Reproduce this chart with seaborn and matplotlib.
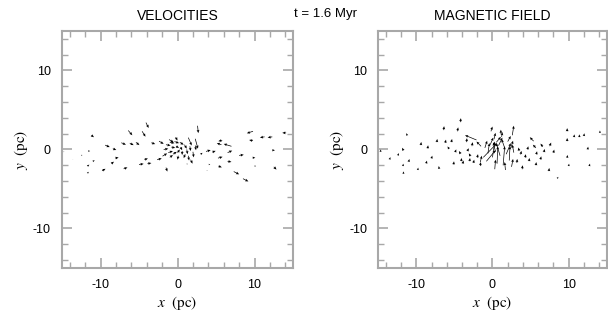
import numpy as np
import matplotlib
matplotlib.use("Agg")
import matplotlib.pyplot as plt
from matplotlib.ticker import MultipleLocator
import seaborn as sns

# velocity field: x, y (pc), vx, vy (arrow length in pc)
vel_x = [-4.1, -6.4, -4.6, 2.6, -11.2, 9.8, 9.8, 11.3, 12.3, 14.1,
         -9.4, -8.4, -7.3, -6.2, -5.4, -3.4, -2.4, -1.1, -0.25, 1.4,
         2.3, 5.8, 5.7, 7.0, 12.3, -14.8, -13.6, -12.5, -11.6, -11.0,
         -11.7, -11.7, -9.8, -8.6, -8.1, -7.0, -5.0, -3.9, -4.3, -2.65,
         -1.95, -1.5, 3.8, 5.3, 6.5, 7.3, 8.5, 9.75, 10.0, 12.5,
         3.7, 4.5, 5.25, 6.5, 8.0, 3.0, 4.05, 1.2, 1.7,
         -1.5, -1.0, -0.4, 0.3, 0.9, 1.2, 1.0, -1.8, -1.2, -0.6,
         0.0, -0.8, -0.2, 0.4, 0.6, 0.1, -1.0, 1.6, 2.0, 1.4, 2.3]
vel_y = [3.4, 2.4, 2.3, 3.0, 1.8, 2.3, 1.1, 1.6, 1.6, 2.1,
         0.55, 0.1, 0.85, 0.8, 0.9, 0.85, 1.05, 1.25, 1.55, 1.5,
         1.35, 1.15, 0.6, 0.4, -0.1, -0.3, -1.3, -0.75, -0.2, -1.5,
         -2.1, -3.0, -2.7, -1.8, -1.1, -2.45, -1.9, -1.8, -1.3, -1.3,
         -0.85, -2.3, -2.65, -2.1, -1.5, -2.8, -3.7, -1.05, -2.1, -2.2,
         -0.25, -0.35, -1.1, -0.4, -0.75, -0.6, -1.9, -1.8, -1.3,
         0.6, 0.9, 1.0, 0.9, 0.6, 0.0, -0.6, 0.0, -0.4, -0.6,
         -0.4, 0.3, 0.4, 0.3, -0.2, -0.8, -1.0, 0.4, -0.3, -0.8, 0.5]
vel_u = [0.35, 0.53, 0.44, 0.1, 0.35, -0.8, -0.5, -0.6, -0.6, -0.5,
         0.6, 0.45, 0.6, 0.5, 0.45, 0.5, 0.6, 0.6, 0.25, 0.44,
         0.35, -0.5, -0.6, -1.0, 0.35, 0.1, 0.05, 0.15, 0.25, 0.25,
         0.25, 0.18, 0.45, 0.35, 0.45, 0.5, 0.6, 0.5, 0.45, 0.6,
         0.6, 0.18, 0.1, 0.45, 0.5, 0.7, 0.7, 0.35, 0.2, 0.35,
         0.6, 0.45, 0.6, 0.6, 0.6, 0.25, 0.2, 0.1, 0.25,
         0.6, 0.6, 0.6, 0.5, 0.3, 0.1, -0.2, 0.6, 0.6, 0.5,
         0.3, 0.5, 0.4, 0.2, 0.0, -0.1, 0.4, 0.1, 0.1, 0.1, 0.1]
vel_v = [-0.68, -0.6, -0.68, -0.93, -0.25, -0.25, 0.1, -0.1, -0.1, 0.0,
         -0.25, -0.17, -0.25, -0.25, -0.35, -0.17, -0.35, -0.35, -0.42, -1.0,
         -1.25, -0.1, 0.2, 0.3, 0.0, 0.0, 0.0, 0.05, 0.0, 0.12,
         0.17, 0.17, 0.25, 0.25, 0.08, 0.17, 0.08, 0.08, 0.17, 0.17,
         0.35, -0.5, 0.0, -0.17, -0.08, -0.35, -0.35, 0.0, 0.0, -0.35,
         0.17, 0.17, 0.17, 0.25, 0.08, 0.17, 0.0, -0.1, -0.5,
         -0.1, -0.1, -0.2, -0.3, -0.5, -0.6, -0.5, 0.1, 0.2, 0.3,
         0.4, -0.1, -0.2, -0.4, -0.5, -0.5, 0.3, -0.6, -0.7, -0.6, -0.6]

# magnetic field: x, y (pc), bx, by
mag_x = [-14.7, -13.5, -12.4, -11.7, -11.2, -11.75, -11.7, -11.0, -9.8, -9.4,
         -8.7, -8.5, -8.0, -7.3, -7.0, -6.4, -6.2, -5.7, -5.4, -5.1,
         -4.6, -4.2, -4.9, -4.2, -4.1, -3.9, -3.4, -3.3, -2.9, -3.0,
         -2.5, -2.7, -2.0, -1.6, 3.5, 3.7, 3.2, 3.9, 4.3, 4.8,
         4.6, 5.4, 5.7, 5.75, 5.7, 6.3, 6.6, 6.75, 7.5, 7.4,
         8.0, 8.5, 9.8, 9.8, 9.8, 10.0, 10.7, 11.4, 12.0, 12.5,
         12.7, 14.1,
         -2.1, -1.5, -1.0, -0.6, -0.3, 0.0, 0.2, 0.4, 0.6, 0.8,
         1.0, 1.2, 1.4, 1.6, 1.8, 2.0, 2.2, 2.4, 2.6, -0.8,
         -1.2, 0.5, 1.1, -0.2, 2.8, 0.3, 1.7, -1.6, 2.5]
mag_y = [-0.3, -1.27, -0.76, -0.13, 1.77, -2.1, -3.08, -1.56, -2.6, 0.55,
         -1.77, 0.13, -1.14, 0.93, -2.45, 2.45, 0.84, 0.08, 0.93, -1.9,
         2.3, 3.46, -0.34, -0.55, -1.48, -1.8, 0.93, -0.2, -0.84, -1.48,
         -1.7, 0.42, -1.05, -2.1, -0.2, -0.63, -1.7, -2.5, -1.05, -1.48,
         0.0, 1.05, 0.2, -0.63, -2.0, -1.27, 0.34, -0.34, 0.42, -2.74,
         -0.42, -3.67, 2.3, 1.05, -1.05, -2.1, 1.56, 1.56, 1.7, 0.0,
         -2.1, 2.1,
         1.2, 0.4, 0.2, -0.5, 0.6, -1.0, 1.3, -0.3, -1.8, 0.5,
         -0.8, 1.6, -2.0, 0.2, -0.6, 1.0, -1.4, 0.2, 1.8, -1.5,
         -1.0, 0.9, 2.0, 2.3, -0.4, -2.5, -2.6, -1.6, -2.2]
mag_u = [0.05, 0.1, 0.1, -0.15, -0.1, 0.05, 0.05, 0.1, 0.05, 0.05,
         0.1, 0.05, 0.1, 0.05, -0.05, 0.05, 0.1, -0.2, 0.1, 0.05,
         0.1, 0.05, 0.15, -0.2, 0.05, 0.1, 0.05, 0.2, -0.2, 0.05,
         0.1, 0.1, 0.1, 0.05, -0.1, 0.1, 0.05, 0.05, 0.05, 0.05,
         0.1, -0.5, -0.4, 0.1, 0.05, 0.1, -0.3, 0.1, 0.2, 0.05,
         0.1, 0.15, 0.0, 0.0, 0.05, 0.05, 0.05, 0.0, 0.05, 0.05,
         0.1, 0.0,
         -1.5, -0.6, 0.3, 0.2, 0.4, 0.3, 0.2, -0.3, 0.1, 0.5,
         -0.5, 0.1, 0.2, -0.4, 0.6, 0.4, 0.1, 0.3, 0.2, 1.2,
         1.8, 0.6, 0.0, 0.2, -0.2, 0.1, -0.1, 0.2, 0.2]
mag_v = [0.3, 0.3, 0.3, 0.35, 0.3, 0.3, 0.3, 0.35, 0.3, 0.4,
         0.35, 0.4, 0.35, 0.4, 0.35, 0.5, 0.4, 0.3, 0.4, 0.4,
         0.5, 0.5, 0.35, 0.35, 0.4, 0.4, 0.5, 0.35, 0.35, 0.4,
         0.4, 0.5, 0.45, 0.5, 0.45, 0.45, 0.5, 0.5, 0.45, 0.4,
         0.4, 0.5, 0.4, 0.4, 0.4, 0.4, 0.4, 0.4, 0.45, 0.4,
         0.4, 0.2, 0.4, 0.4, 0.35, 0.3, 0.35, 0.35, 0.35, 0.35,
         0.3, 0.3,
         0.6, 0.6, 0.9, 1.3, 0.9, 2.0, 0.8, 1.2, 2.2, 1.0,
         1.6, 0.6, 2.4, 1.1, 1.4, 0.7, 1.8, 0.9, 1.2, 1.4,
         1.8, 0.7, 0.5, 0.6, 1.0, 1.2, 1.0, 0.8, 1.0]

sns.set_theme(style="ticks")
plt.rcParams["font.family"] = ["Liberation Sans", "DejaVu Sans"]
plt.rcParams["mathtext.fontset"] = "stix"
plt.rcParams["axes.unicode_minus"] = False
for key in ["text.color", "axes.labelcolor", "xtick.labelcolor", "ytick.labelcolor"]:
    plt.rcParams[key] = "black"

fig = plt.figure(figsize=(6.08, 3.13), dpi=100)
ax1 = fig.add_axes([0.102, 0.144, 0.380, 0.757])
ax2 = fig.add_axes([0.622, 0.144, 0.376, 0.757])

frame = "#a8a8a8"
panels = [(ax1, vel_x, vel_y, vel_u, vel_v, "VELOCITIES"),
          (ax2, mag_x, mag_y, mag_u, mag_v, "MAGNETIC FIELD")]
for ax, x, y, u, v, title in panels:
    ax.quiver(x, y, u, v, angles="xy", scale_units="xy", scale=1,
              color="black", width=0.003, headwidth=4, headlength=4.5,
              headaxislength=4, minlength=0.3)
    ax.set_xlim(-15, 15)
    ax.set_ylim(-15, 15)
    ax.xaxis.set_major_locator(MultipleLocator(10))
    ax.yaxis.set_major_locator(MultipleLocator(10))
    ax.xaxis.set_minor_locator(MultipleLocator(2))
    ax.yaxis.set_minor_locator(MultipleLocator(2))
    ax.tick_params(which="both", direction="in", top=True, right=True,
                   color=frame, labelsize=9, pad=8, labelcolor="black")
    ax.tick_params(which="major", length=7, width=1.2)
    ax.tick_params(which="minor", length=4, width=1)
    for s in ax.spines.values():
        s.set_color(frame)
        s.set_linewidth(1.5)
    ax.set_xlabel(r"$x\ \ \mathrm{(pc)}$", fontsize=11, labelpad=2, color="black")
    ax.set_ylabel(r"$y\ \ \mathrm{(pc)}$", fontsize=11, labelpad=2, color="black")
    ax.set_title(title, fontsize=10, pad=8, color="black")

fig.text(0.535, 0.955, "t = 1.6 Myr", ha="center", va="center", fontsize=9.5,
         color="black")
fig.savefig("out.png", dpi=100, facecolor="white")
